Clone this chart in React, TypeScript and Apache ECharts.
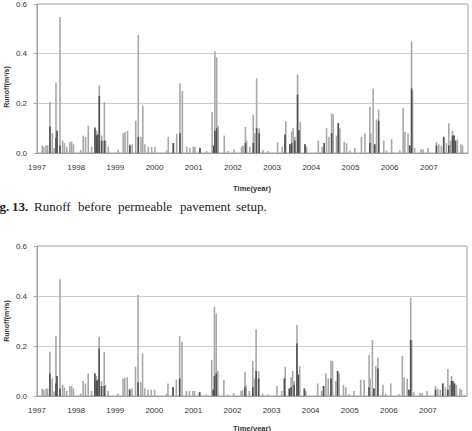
import React, { useEffect, useRef } from 'react';
import * as echarts from 'echarts';

// Event positions (decimal year) shared by both panels
const eventYears = [
  1997.135, 1997.17, 1997.23, 1997.27, 1997.33, 1997.39, 1997.44, 1997.485, 1997.51, 1997.587,
  1997.655, 1997.7, 1997.76, 1997.84, 1997.885, 1997.93, 1998.115, 1998.18, 1998.24, 1998.31,
  1998.395, 1998.48, 1998.52, 1998.55, 1998.59, 1998.65, 1998.72, 1998.75, 1998.82, 1999.07,
  1999.2, 1999.245, 1999.31, 1999.37, 1999.43, 1999.52, 1999.585, 1999.655, 1999.7, 1999.755,
  1999.84, 1999.925, 2000.01, 2000.31, 2000.35, 2000.48, 2000.565, 2000.65, 2000.71, 2000.82,
  2000.9, 2000.99, 2001.03, 2001.16, 2001.33, 2001.47, 2001.51, 2001.54, 2001.585, 2001.625,
  2001.78, 2001.88, 2002.03, 2002.22, 2002.26, 2002.32, 2002.35, 2002.43, 2002.52, 2002.56,
  2002.605, 2002.67, 2002.77, 2002.9, 2003.14, 2003.26, 2003.33, 2003.35, 2003.455, 2003.5,
  2003.54, 2003.58, 2003.65, 2003.685, 2003.72, 2003.84, 2003.88, 2004.18, 2004.28, 2004.33,
  2004.39, 2004.45, 2004.52, 2004.56, 2004.645, 2004.69, 2004.73, 2004.84, 2004.9, 2004.985,
  2005.11, 2005.28, 2005.37, 2005.495, 2005.52, 2005.58, 2005.62, 2005.665, 2005.72, 2005.85,
  2005.92, 2006.05, 2006.26, 2006.345, 2006.39, 2006.47, 2006.515, 2006.56, 2006.585, 2006.64,
  2006.8, 2006.855, 2006.98, 2007.195, 2007.255, 2007.32, 2007.38, 2007.45, 2007.51, 2007.56,
  2007.605, 2007.64, 2007.68, 2007.73, 2007.82, 2007.86,
];

// Runoff before permeable pavement setup (m3/s)
const runoffBefore = [
  0.03, 0.025, 0.03, 0.032, 0.205, 0.08, 0.02, 0.283, 0.09, 0.548,
  0.05, 0.04, 0.025, 0.045, 0.045, 0.035, 0.012, 0.07, 0.065, 0.11,
  0.025, 0.105, 0.09, 0.075, 0.272, 0.07, 0.205, 0.05, 0.025, 0.012,
  0.08, 0.085, 0.09, 0.035, 0.035, 0.13, 0.475, 0.065, 0.19, 0.035,
  0.025, 0.025, 0.025, 0.01, 0.065, 0.04, 0.078, 0.28, 0.25, 0.025,
  0.02, 0.025, 0.025, 0.02, 0.008, 0.165, 0.03, 0.41, 0.385, 0.11,
  0.07, 0.008, 0.015, 0.025, 0.03, 0.105, 0.05, 0.025, 0.155, 0.08,
  0.3, 0.1, 0.012, 0.008, 0.043, 0.025, 0.075, 0.128, 0.035, 0.087,
  0.1, 0.065, 0.316, 0.092, 0.125, 0.035, 0.025, 0.05, 0.025, 0.04,
  0.1, 0.065, 0.16, 0.155, 0.07, 0.12, 0.1, 0.045, 0.04, 0.01,
  0.02, 0.065, 0.08, 0.185, 0.08, 0.26, 0.035, 0.135, 0.175, 0.05,
  0.01, 0.055, 0.01, 0.18, 0.085, 0.08, 0.03, 0.45, 0.25, 0.02,
  0.015, 0.015, 0.02, 0.045, 0.035, 0.03, 0.065, 0.04, 0.12, 0.05,
  0.09, 0.07, 0.05, 0.055, 0.035, 0.03,
];

// Dense (dark) part of the same days, before setup
const runoffBeforeCore = [
  0, 0, 0, 0, 0.107, 0, 0, 0.06, 0.09, 0.03,
  0, 0, 0, 0, 0, 0, 0, 0, 0, 0,
  0, 0.1, 0.07, 0.075, 0.23, 0.05, 0.05, 0, 0, 0,
  0, 0, 0, 0.03, 0, 0, 0.065, 0, 0, 0,
  0, 0, 0, 0, 0, 0.04, 0, 0.08, 0, 0,
  0, 0, 0, 0.02, 0, 0, 0.03, 0.09, 0.1, 0,
  0, 0, 0, 0, 0, 0.04, 0, 0, 0.04, 0,
  0.1, 0.08, 0, 0, 0, 0, 0.075, 0, 0.035, 0.04,
  0, 0.05, 0.235, 0.092, 0, 0.035, 0, 0, 0, 0.04,
  0, 0, 0.08, 0, 0, 0.12, 0, 0, 0, 0,
  0, 0, 0, 0.04, 0, 0, 0.035, 0, 0.13, 0,
  0, 0, 0, 0, 0, 0, 0.03, 0.26, 0, 0,
  0, 0, 0, 0.03, 0, 0, 0.065, 0, 0.03, 0,
  0.07, 0.07, 0.05, 0, 0, 0,
];

// Runoff after permeable pavement setup (m3/s)
const runoffAfter = [
  0.03, 0.025, 0.03, 0.03, 0.177, 0.07, 0.018, 0.24, 0.08, 0.467,
  0.045, 0.035, 0.02, 0.04, 0.04, 0.03, 0.01, 0.06, 0.05, 0.09,
  0.02, 0.09, 0.08, 0.065, 0.237, 0.06, 0.176, 0.045, 0.02, 0.01,
  0.07, 0.072, 0.075, 0.03, 0.03, 0.117, 0.404, 0.055, 0.17, 0.03,
  0.025, 0.025, 0.025, 0.008, 0.05, 0.035, 0.065, 0.24, 0.217, 0.02,
  0.02, 0.02, 0.02, 0.015, 0.006, 0.144, 0.025, 0.357, 0.33, 0.1,
  0.064, 0.006, 0.012, 0.02, 0.025, 0.097, 0.045, 0.02, 0.14, 0.07,
  0.267, 0.1, 0.01, 0.006, 0.04, 0.02, 0.07, 0.117, 0.03, 0.075,
  0.1, 0.06, 0.284, 0.085, 0.12, 0.03, 0.02, 0.05, 0.02, 0.04,
  0.09, 0.07, 0.141, 0.141, 0.06, 0.1, 0.09, 0.045, 0.035, 0.008,
  0.02, 0.065, 0.065, 0.164, 0.07, 0.224, 0.03, 0.12, 0.153, 0.045,
  0.008, 0.05, 0.008, 0.16, 0.075, 0.07, 0.025, 0.393, 0.224, 0.015,
  0.012, 0.012, 0.02, 0.04, 0.03, 0.025, 0.05, 0.035, 0.108, 0.045,
  0.08, 0.06, 0.05, 0.045, 0.03, 0.025,
];

// Dense (dark) part of the same days, after setup
const runoffAfterCore = [
  0, 0, 0, 0, 0.09, 0, 0, 0.05, 0.08, 0.03,
  0, 0, 0, 0, 0, 0, 0, 0, 0, 0,
  0, 0.09, 0.06, 0.065, 0.19, 0.04, 0.04, 0, 0, 0,
  0, 0, 0, 0.025, 0, 0, 0.055, 0, 0, 0,
  0, 0, 0, 0, 0, 0.035, 0, 0.07, 0, 0,
  0, 0, 0, 0.015, 0, 0, 0.025, 0.08, 0.09, 0,
  0, 0, 0, 0, 0, 0.035, 0, 0, 0.035, 0,
  0.1, 0.07, 0, 0, 0, 0, 0.07, 0, 0.03, 0.035,
  0, 0.045, 0.21, 0.085, 0, 0.03, 0, 0, 0, 0.04,
  0, 0, 0.07, 0, 0, 0.1, 0, 0, 0, 0,
  0, 0, 0, 0.035, 0, 0, 0.03, 0, 0.11, 0,
  0, 0, 0, 0, 0, 0, 0.025, 0.224, 0, 0,
  0, 0, 0, 0.025, 0, 0, 0.05, 0, 0.025, 0,
  0.06, 0.06, 0.05, 0, 0, 0,
];

const yearMin = 1997;
const yearMax = 2008;
const runoffMax = 0.6;
const runoffStep = 0.2;

const yAxisTitle = 'Runoff(m³/s)';
const xAxisTitle = 'Time(year)';
const captionWords = [
  { text: 'Fig.', bold: true, x: -12 },
  { text: '13.', bold: true, x: 12 },
  { text: 'Runoff', bold: false, x: 34 },
  { text: 'before', bold: false, x: 78 },
  { text: 'permeable', bold: false, x: 118 },
  { text: 'pavement', bold: false, x: 180 },
  { text: 'setup.', bold: false, x: 236 },
];

const AXIS_FONT = 'Liberation Sans';

function pairs(vals: number[]) {
  const out: [number, number][] = [];
  vals.forEach((v, i) => {
    if (v > 0) out.push([eventYears[i], v]);
  });
  return out;
}

function makeXAxis(gridIndex: number) {
  return {
    type: 'value',
    gridIndex,
    min: yearMin,
    max: yearMax,
    interval: 1,
    axisLine: { show: true, onZero: false, lineStyle: { color: '#a0a0a0', width: 1 } },
    axisTick: { show: false },
    splitLine: { show: false },
    axisLabel: {
      formatter: (v: number) => (v >= yearMax ? '' : String(v)),
      fontSize: 8,
      color: '#333',
      fontFamily: AXIS_FONT,
      margin: 10,
    },
  };
}

function makeYAxis(gridIndex: number) {
  return {
    type: 'value',
    gridIndex,
    min: 0,
    max: runoffMax,
    interval: runoffStep,
    axisLine: { show: true, lineStyle: { color: '#a0a0a0', width: 1 } },
    axisTick: { show: true, length: 3, lineStyle: { color: '#a0a0a0' } },
    splitLine: { show: true, lineStyle: { color: '#cdcdcd', width: 1 } },
    axisLabel: {
      formatter: (v: number) => v.toFixed(1),
      fontSize: 8,
      color: '#333',
      fontFamily: AXIS_FONT,
      margin: 10,
    },
  };
}

function barSeries(idx: number, data: [number, number][], color: string, z: number) {
  return {
    type: 'bar',
    xAxisIndex: idx,
    yAxisIndex: idx,
    data,
    barWidth: 1.6,
    barGap: '-100%',
    itemStyle: { color },
    z,
    silent: true,
  };
}

export default function App() {
  const ref = useRef<HTMLDivElement>(null);
  useEffect(() => {
    if (!ref.current) return;
    const chart = echarts.init(ref.current, null, { renderer: 'svg' });
    const textStyle = (bold: boolean, size: number, family: string, color: string) => ({
      fontSize: size,
      fontWeight: bold ? 'bold' : 'normal',
      fontFamily: family,
      fill: color,
    });
    const graphic: any[] = [
      {
        type: 'text', x: 6, y: 87, rotation: Math.PI / 2,
        style: { text: yAxisTitle, align: 'center', verticalAlign: 'middle', ...textStyle(true, 7, AXIS_FONT, '#333') },
      },
      {
        type: 'text', x: 6, y: 321, rotation: Math.PI / 2,
        style: { text: yAxisTitle, align: 'center', verticalAlign: 'middle', ...textStyle(true, 7, AXIS_FONT, '#333') },
      },
      {
        type: 'text', x: 252, y: 188,
        style: { text: xAxisTitle, align: 'center', verticalAlign: 'middle', ...textStyle(true, 7.5, AXIS_FONT, '#333') },
      },
      {
        type: 'text', x: 252, y: 428,
        style: { text: xAxisTitle, align: 'center', verticalAlign: 'middle', ...textStyle(true, 7.5, AXIS_FONT, '#333') },
      },
      ...captionWords.map((w) => ({
        type: 'text', x: w.x, y: 206,
        style: { text: w.text, align: 'left', verticalAlign: 'middle', ...textStyle(w.bold, 13, 'Liberation Serif', '#222') },
      })),
    ];
    chart.setOption({
      animation: false,
      backgroundColor: '#ffffff',
      grid: [
        { left: 37, top: 3, width: 431, height: 150, show: true, borderColor: '#a0a0a0', borderWidth: 1, backgroundColor: 'transparent' },
        { left: 37, top: 246, width: 430, height: 150, show: true, borderColor: '#a0a0a0', borderWidth: 1, backgroundColor: 'transparent' },
      ],
      xAxis: [makeXAxis(0), makeXAxis(1)],
      yAxis: [makeYAxis(0), makeYAxis(1)],
      series: [
        barSeries(0, pairs(runoffBefore), '#a8a8a8', 2),
        barSeries(0, pairs(runoffBeforeCore), '#505050', 3),
        barSeries(1, pairs(runoffAfter), '#a8a8a8', 2),
        barSeries(1, pairs(runoffAfterCore), '#505050', 3),
      ],
      graphic,
    });
    return () => chart.dispose();
  }, []);
  return (
    <div
      ref={ref}
      style={{ position: 'absolute', left: 0, top: 0, width: 472, height: 431, background: '#fff' }}
    />
  );
}
